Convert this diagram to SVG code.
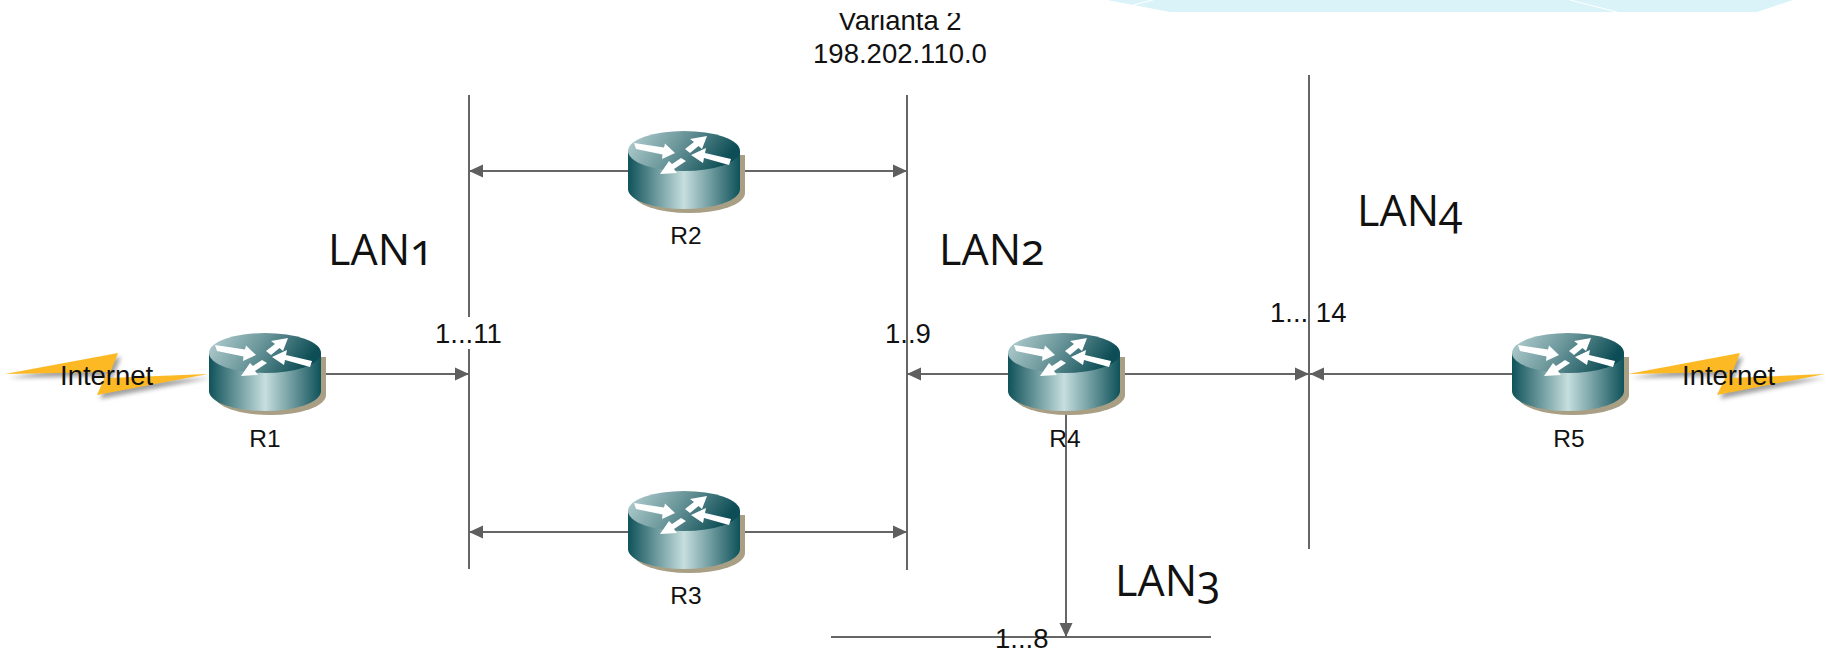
<svg xmlns="http://www.w3.org/2000/svg" width="1825" height="652" viewBox="0 0 1825 652">
<style>
.ln{stroke:#666;stroke-width:2;fill:none}
.t{font-family:"Liberation Sans",Arial,sans-serif;fill:#111}
.r{font-size:24.5px;text-anchor:middle}
.n{font-size:27.5px}
.lan{font-family:"Open Sans","Noto Sans",sans-serif;font-size:43px;fill:#111;font-variant-numeric:oldstyle-nums;font-feature-settings:"onum"}
.bolt{fill:#FDB924}
.bs{fill:#555;opacity:.55;filter:url(#blur)}
</style>
<defs>
<marker id="a" markerUnits="userSpaceOnUse" markerWidth="14" markerHeight="14" refX="14" refY="7" orient="auto-start-reverse"><path d="M0,0.5L14,7L0,13.5Z" fill="#5f5f5f"/></marker>
<filter id="blur" x="-20%" y="-50%" width="140%" height="200%"><feGaussianBlur stdDeviation="2"/></filter>
<linearGradient id="top" x1="0" y1="0" x2="1" y2="0.25"><stop offset="0" stop-color="#B8D2D4"/><stop offset=".5" stop-color="#6A969A"/><stop offset="1" stop-color="#0D4D55"/></linearGradient>
<linearGradient id="side" x1="0" y1="0" x2="1" y2="0"><stop offset="0" stop-color="#0F525A"/><stop offset=".5" stop-color="#C6DEDE"/><stop offset="1" stop-color="#0F525A"/></linearGradient>
<g id="router">
<path d="M-51,4V42A56,20 0 0 0 61,42V4Z" fill="#A89F85"/>
<path d="M-56,0V38A56,20 0 0 0 56,38V0Z" fill="url(#side)"/>
<ellipse cx="0" cy="0" rx="56" ry="20" fill="url(#top)"/>
<g fill="#fff">
<polygon points="-50,-8 -20,-3.5 -19,-7.5 -9,2 -22,8 -21.5,3.5 -48,-2"/>
<polygon points="1,-2 10,-9 6,-12 23,-15 18,-2 14.5,-5 6,2"/>
<polygon points="47,8 21,2 22,-3 7,4 19,12 20,7 45,14"/>
<polygon points="-3,7 -12,13 -15,10 -24,23 -7,22 -10,18 2,10"/>
</g>
</g>
</defs>
<rect width="1825" height="652" fill="#fff"/>
<g id="banner">
<polygon points="1107,0 1793,0 1757,12 1170,12" fill="#DAF3F9"/>
<path d="M1133,5L1153,0M1570,0L1617,12" stroke="#fff" stroke-width="1" fill="none"/>
</g>
<g id="connectors">
<line class="ln" x1="469" y1="95" x2="469" y2="569"/>
<line class="ln" x1="907" y1="95" x2="907" y2="570"/>
<line class="ln" x1="1309" y1="75" x2="1309" y2="549"/>
<line class="ln" x1="831" y1="637" x2="1211" y2="637"/>
<line class="ln" x1="469" y1="171" x2="907" y2="171" marker-start="url(#a)" marker-end="url(#a)"/>
<line class="ln" x1="469" y1="532" x2="907" y2="532" marker-start="url(#a)" marker-end="url(#a)"/>
<line class="ln" x1="320" y1="374" x2="469" y2="374" marker-end="url(#a)"/>
<line class="ln" x1="907" y1="374" x2="1309" y2="374" marker-start="url(#a)" marker-end="url(#a)"/>
<line class="ln" x1="1568" y1="374" x2="1310" y2="374" marker-end="url(#a)"/>
<line class="ln" x1="1066" y1="410" x2="1066" y2="637" marker-end="url(#a)"/>
</g>
<g id="internet-left">
<polygon class="bs" points="9,378 121,357 111,382 211,378 100,399 110,376"/>
<polygon class="bolt" points="5,374 118,353 108,378 208,374 97,395 107,372"/>
<text class="t n" x="60" y="385">Internet</text>
</g>
<g id="internet-right">
<polygon class="bs" points="1631,378 1743,357 1733,382 1825,378 1720,399 1731,376"/>
<polygon class="bolt" points="1628,374 1740,353 1730,378 1825,374 1717,395 1728,372"/>
<text class="t n" x="1682" y="385">Internet</text>
</g>
<g id="R1"><use href="#router" x="265" y="353"/><text class="t r" x="265" y="447">R1</text></g>
<g id="R2"><use href="#router" x="684" y="151"/><text class="t r" x="686" y="244">R2</text></g>
<g id="R3"><use href="#router" x="684" y="511"/><text class="t r" x="686" y="604">R3</text></g>
<g id="R4"><use href="#router" x="1064" y="353"/><text class="t r" x="1065" y="447">R4</text></g>
<g id="R5"><use href="#router" x="1568" y="353"/><text class="t r" x="1569" y="447">R5</text></g>
<g id="labels">
<rect x="432" y="317" width="76" height="32" fill="#fff"/>
<text class="t n" x="435" y="343">1...11</text>
<text class="t n" x="885" y="343">1..9</text>
<text class="t n" x="1270" y="322">1... 14</text>
<text class="t n" x="995" y="648">1...8</text>
<text class="t n" x="900" y="30" text-anchor="middle">Varianta 2</text>
<text class="t n" x="900" y="63" text-anchor="middle">198.202.110.0</text>
<rect x="820" y="0" width="160" height="13" fill="#fff"/>
<text class="lan" x="328" y="265">LAN1</text>
<text class="lan" x="939" y="265">LAN2</text>
<text class="lan" x="1357" y="226">LAN4</text>
<text class="lan" x="1115" y="596">LAN3</text>
</g>
</svg>
